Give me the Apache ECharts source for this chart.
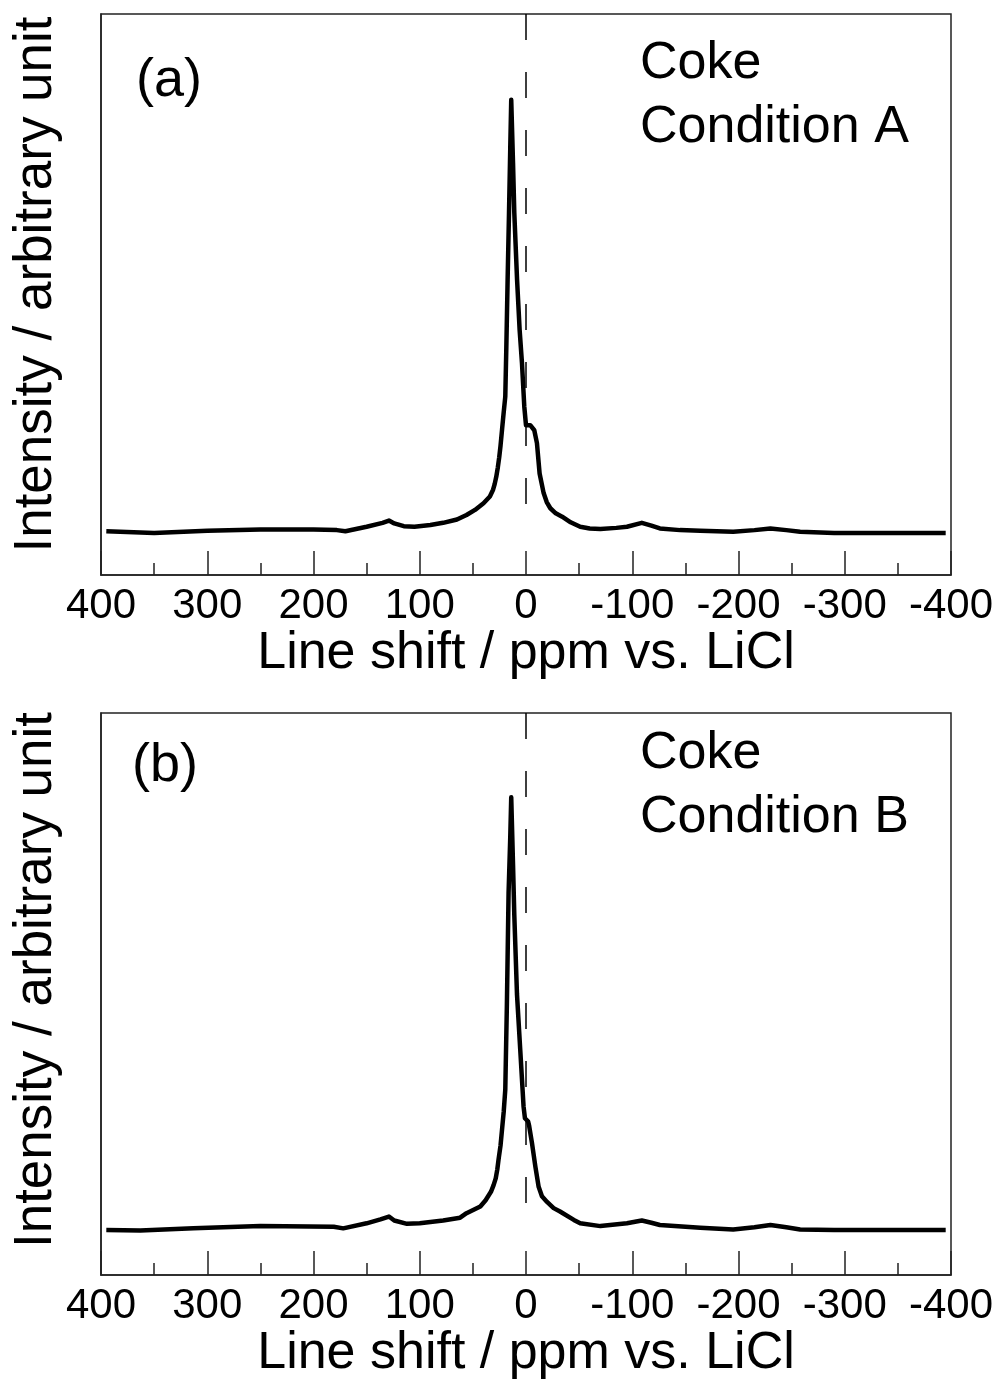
<!DOCTYPE html>
<html>
<head>
<meta charset="utf-8">
<script src="https://cdn.jsdelivr.net/npm/echarts@6/dist/echarts.min.js"></script>
<style>
  html, body { margin: 0; padding: 0; background: #fff; }
  #chart { width: 997px; height: 1381px; }
</style>
</head>
<body>
<div id="chart"></div>
<script>
// x ticks (ppm), reversed axis: 400 on the left
const tickMin = -400
const tickMax = 400
const tickStep = 100

// panel (a) Coke, Condition A
const shiftA = [395, 350, 300, 250, 200, 178, 170, 150, 135, 129, 124, 115, 105, 90, 78, 65, 56, 48, 40, 34, 31, 29.5, 28, 26.5, 25.2, 24.0, 22.5, 21.1, 19.5, 18.5, 17.3, 16.0, 14.8, 13.9,
  12.2, 11.0, 8.4, 6.0, 3.8, 1.6, 0, -4, -7.8, -10.3, -12.8, -16.6, -19.5, -22.9, -28, -34, -42, -51, -60, -70, -85, -95, -109, -118, -126, -145, -164, -195, -215, -230, -245, -258, -290, -395]
const intensityA = [7.8, 7.5, 7.9, 8.1, 8.1, 8.0, 7.8, 8.6, 9.3, 9.7, 9.2, 8.7, 8.6, 8.9, 9.3, 9.9, 10.7, 11.6, 12.8, 14.0, 15.2, 16.2, 17.5, 19.2, 21.0, 23.0, 26.0, 28.8, 31.8, 40.7, 52.6, 64.5, 76.3, 84.7,
  73.4, 64.5, 52.6, 43.7, 37.8, 30.0, 26.7, 26.7, 25.8, 23.5, 18.1, 14.6, 13.0, 11.9, 11.0, 10.4, 9.4, 8.6, 8.3, 8.2, 8.4, 8.6, 9.3, 8.8, 8.3, 8.0, 7.9, 7.7, 8.0, 8.3, 8.0, 7.7, 7.5, 7.5]

// panel (b) Coke, Condition B
const shiftB = [395, 363, 313, 250, 181, 172, 150, 137, 129, 124, 112, 100, 78, 62, 56, 43, 38, 33, 30.5, 28.5, 27, 25.8, 24, 22.5, 21, 19.5, 18, 16.4, 14.8, 13.9,
  12.2, 11, 8.5, 5.4, 2.3, 1, -2, -3, -5.6, -8.8, -11.9, -15, -19.8, -26, -32, -45, -51, -70, -95, -109, -118, -126, -164, -195, -215, -230, -245, -258, -290, -395]
const intensityB = [8.0, 7.9, 8.3, 8.7, 8.6, 8.3, 9.2, 9.9, 10.4, 9.7, 9.1, 9.2, 9.7, 10.2, 11.0, 12.2, 13.3, 14.8, 16.0, 17.2, 18.8, 20.6, 23.0, 26.0, 29.0, 33.0, 48.0, 68.0, 78.0, 85.0,
  73.0, 64.0, 50.0, 40.0, 30.0, 27.9, 27.3, 26.5, 23.5, 19.3, 15.7, 14.0, 13.0, 11.9, 11.3, 9.8, 9.2, 8.7, 9.2, 9.7, 9.3, 8.9, 8.4, 8.1, 8.5, 8.9, 8.5, 8.1, 8.0, 8.0]

// dashed reference line at 0 ppm: [x, top, bottom]
const refLineA = [0, 100, 8.4]
const refLineB = [0, 100, 8.6]

const panelLabels = ['(a)', '(b)']
const sampleLabels = [['Coke', 'Condition A'], ['Coke', 'Condition B']]

const FONT = '"Liberation Sans", Arial, sans-serif'

const chart = echarts.init(document.getElementById('chart'))

const toPairs = (xs, ys) => xs.map((x, i) => [x, ys[i]])

const makeXAxis = (gridIndex) => ({
  gridIndex,
  type: 'value',
  inverse: true,
  min: tickMin,
  max: tickMax,
  interval: tickStep,
  name: 'Line shift / ppm vs. LiCl',
  nameLocation: 'middle',
  nameGap: 48,
  nameTextStyle: { fontFamily: FONT, fontSize: 52, color: '#000' },
  axisLine: { onZero: false, lineStyle: { color: '#222', width: 1.5 } },
  axisTick: { inside: true, length: 24, lineStyle: { color: '#222', width: 1.5 } },
  minorTick: { show: true, splitNumber: 2, length: 12, lineStyle: { color: '#222', width: 1.5 } },
  axisLabel: {
    fontFamily: FONT, fontSize: 42, color: '#000', margin: 10,
    showMinLabel: true, showMaxLabel: true
  },
  splitLine: { show: false }
})

// shift = extra left padding, moves the rotated name upward
const makeYAxis = (gridIndex, shift) => ({
  gridIndex,
  type: 'value',
  min: 0,
  max: 100,
  name: 'Intensity / arbitrary unit',
  nameLocation: 'middle',
  nameGap: 38,
  nameTextStyle: { fontFamily: FONT, fontSize: 53, color: '#000', padding: [0, 0, 0, shift] },
  axisLine: { show: true, onZero: false, lineStyle: { color: '#222', width: 1.5 } },
  axisTick: { show: false },
  axisLabel: { show: false },
  splitLine: { show: false }
})

const makeSeries = (idx, xs, ys, ref) => ({
  type: 'line',
  xAxisIndex: idx,
  yAxisIndex: idx,
  data: toPairs(xs, ys),
  showSymbol: false,
  smooth: false,
  lineStyle: { color: '#000', width: 4.5, join: 'round' },
  silent: true,
  markLine: {
    silent: true,
    symbol: 'none',
    label: { show: false },
    lineStyle: { color: '#000', width: 1.5, type: [26, 32] },
    data: [[{ coord: [ref[0], ref[1]] }, { coord: [ref[0], ref[2]] }]]
  }
})

const textEl = (text, left, top, size) => ({
  type: 'text',
  left,
  top,
  style: { text, fontFamily: FONT, fontSize: size, fill: '#000' }
})

const option = {
  backgroundColor: '#fff',
  animation: false,
  grid: [
    { left: 101, top: 14, width: 850, height: 561, show: true, borderColor: '#222', borderWidth: 1.5 },
    { left: 101, top: 713, width: 850, height: 562, show: true, borderColor: '#222', borderWidth: 1.5 }
  ],
  xAxis: [makeXAxis(0), makeXAxis(1)],
  yAxis: [makeYAxis(0, 20), makeYAxis(1, 28)],
  series: [
    makeSeries(0, shiftA, intensityA, refLineA),
    makeSeries(1, shiftB, intensityB, refLineB)
  ],
  graphic: [
    textEl(panelLabels[0], 136, 54, 54),
    textEl(sampleLabels[0][0], 640, 38, 52),
    textEl(sampleLabels[0][1], 640, 102, 52),
    textEl(panelLabels[1], 132, 739, 54),
    textEl(sampleLabels[1][0], 640, 728, 52),
    textEl(sampleLabels[1][1], 640, 792, 52)
  ]
}

chart.setOption(option)
</script>
</body>
</html>
